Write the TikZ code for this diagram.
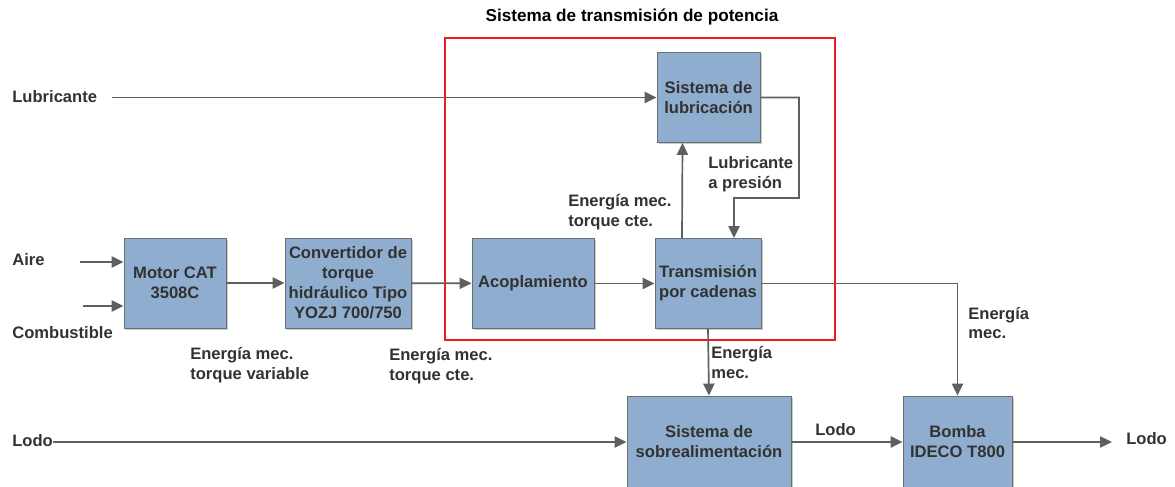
\documentclass[tikz,border=0pt]{standalone}
\usepackage{fontspec}
\setmainfont{Liberation Sans}
\usepackage{xcolor}
\usetikzlibrary{arrows.meta,shadows}
\definecolor{boxfill}{RGB}{143,173,206}
\definecolor{boxborder}{RGB}{110,110,110}
\definecolor{linegray}{RGB}{95,95,95}
\definecolor{textgray}{RGB}{50,50,50}
\definecolor{framered}{RGB}{237,28,36}
\newcommand{\diagfont}{\fontsize{11.8}{14.2}\selectfont\bfseries}

\begin{document}
\begin{tikzpicture}[x=0.025cm,y=-0.025cm,>={Triangle[length=0.3cm,width=0.28cm]},
  flow/.style={->,draw=linegray,line width=1.2pt},
  block/.style={draw=boxborder,fill=boxfill,line width=0.6pt,align=center,inner sep=1pt,
    minimum height=2.25cm,font=\diagfont,text=textgray,
    drop shadow={shadow xshift=1.2pt,shadow yshift=-1.2pt,opacity=0.35,fill=black!60}},
  lbl/.style={anchor=west,align=left,inner sep=0pt,font=\diagfont,text=textgray}]
  \useasboundingbox (0,0) rectangle (1175,486);

  % title and frame
  \node[font=\fontsize{12.2}{14}\selectfont\bfseries] (title) at (632,17) {Sistema de transmisión de potencia};
  \draw[framered,line width=0.06cm] (445,38) rectangle (835,340);

  % blocks
  \node[block,minimum width=2.55cm] (motor) at (175,283) {Motor CAT\\3508C};
  \node[block,minimum width=3.15cm] (conv) at (348,283) {Convertidor de\\torque\\hidráulico Tipo\\YOZJ 700/750};
  \node[block,minimum width=3.05cm] (acop) at (533,283.5) {Acoplamiento};
  \node[block,minimum width=2.65cm] (trans) at (708,283.5) {Transmisión\\por cadenas};
  \node[block,minimum width=2.575cm] (lub) at (708.5,97.5) {Sistema de\\lubricación};
  \node[block,minimum width=4.1cm,minimum height=2.3cm] (sobre) at (709,442) {Sistema de\\sobrealimentación};
  \node[block,minimum width=2.725cm,minimum height=2.3cm] (bomba) at (957.5,442) {Bomba\\IDECO T800};

  % inputs and outputs
  \node[lbl] (lubtxt) at (12,97) {Lubricante};
  \node[lbl] (airetxt) at (12,260) {Aire};
  \node[lbl] (combtxt) at (12,333) {Combustible};
  \node[lbl] (lodoin) at (12,441) {Lodo};
  \node[lbl] (lodoout) at (1126,439) {Lodo};
  \coordinate (lubin) at (112,97.5);
  \coordinate (airein) at (80,262);
  \coordinate (combin) at (83,306);
  \coordinate (lodoend) at (1112,442);

  % labels
  \node[lbl] (emvar) at (190,365) {Energía mec.\\torque variable};
  \node[lbl] (emcte) at (389,366.5) {Energía mec.\\torque cte.};
  \node[lbl] (emcte2) at (568,212) {Energía mec.\\torque cte.};
  \node[lbl] (lubpres) at (708,174.5) {Lubricante\\a presión};
  \node[lbl] (emsobre) at (711,362.5) {Energía\\mec.};
  \node[lbl] (embomba) at (968,323) {Energía\\mec.};
  \node[lbl] (lodomid) at (815,430) {Lodo};

  \path
  (lubin) edge[flow] (lubin -| lub.west)
  (airein) edge[flow] (airein -| motor.west)
  (combin) edge[flow] (combin -| motor.west)
  (motor) edge[flow] (conv)
  (conv) edge[flow] (acop)
  (acop) edge[flow] (trans)
  ([xshift=-0.65cm]trans.north) edge[flow] ([xshift=-0.65cm]lub.south)
  (trans.south) edge[flow] (sobre.north)
  (lodoin.east |- sobre) edge[flow] (sobre.west)
  (sobre) edge[flow] (bomba)
  (bomba.east) edge[flow] (lodoend)
  ;
  \draw[flow] (lub.east) -- (799,97.5) |- (734,198) -- ([xshift=0.65cm]trans.north);
  \draw[flow] (trans.east) -| (bomba.north);
\end{tikzpicture}
\end{document}
